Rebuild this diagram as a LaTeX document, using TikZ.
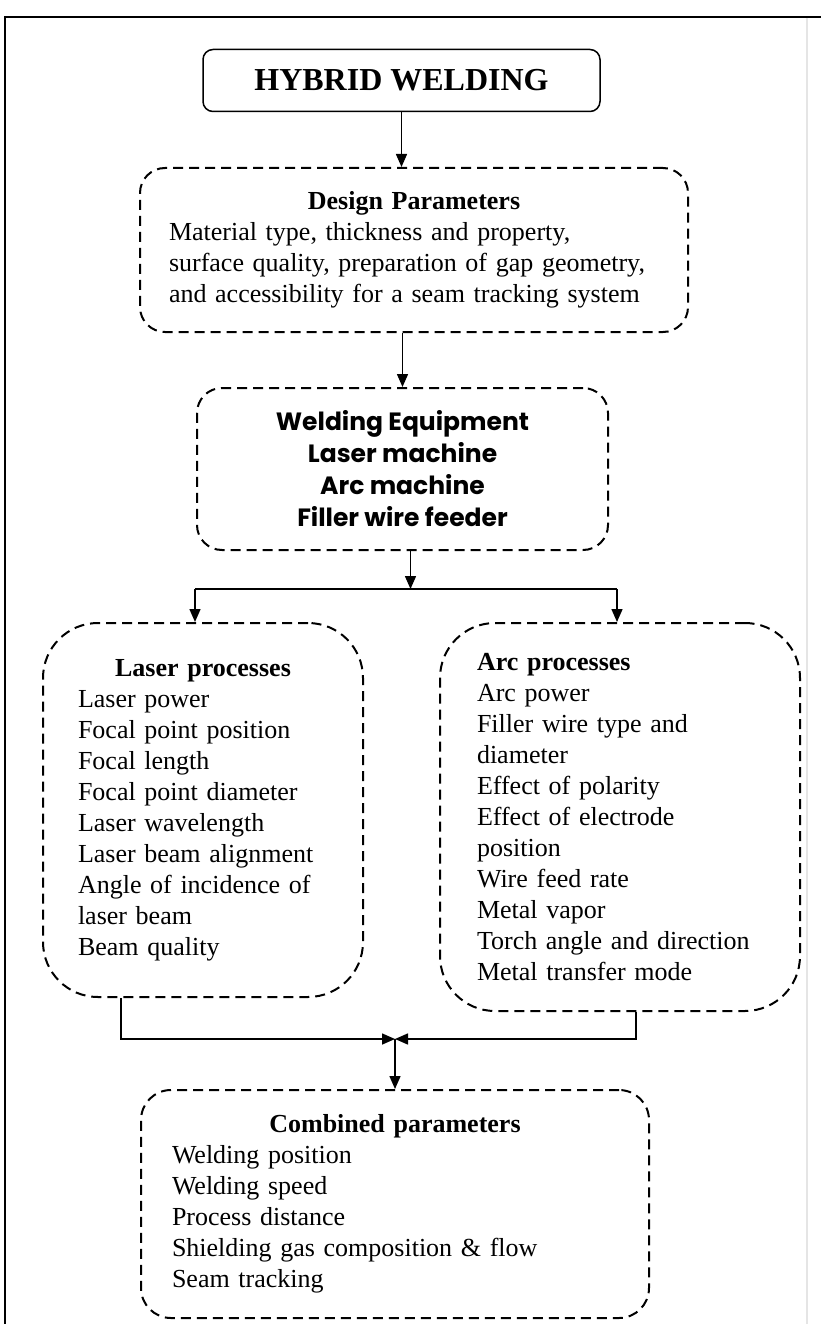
\documentclass[tikz,border=0pt]{standalone}
\usepackage{fontspec}
\setmainfont{Liberation Serif}
\newfontfamily\equipfont{Poppins}
\usetikzlibrary{arrows.meta}

\newcommand\boxhead[1]{\makebox[\hsize]{\bfseries #1}}

\tikzset{
  procbox/.style={draw,dash pattern=on 10pt off 6pt,line width=2pt,align=left,
    font=\fontsize{26}{31}\selectfont},
  link/.style={line width=1.5pt}
}

\begin{document}
\begin{tikzpicture}[x=1pt,y=-1pt,>={Triangle[length=13pt,width=11pt]}]
\useasboundingbox (0,0) rectangle (821,1324);
% page frame
\draw[line width=1.5pt] (5,1324) -- (5,17) -- (821,17);
\draw[black!10,line width=2pt] (807,18) -- (807,1324);

\node[draw,line width=1.5pt,rounded corners=10pt,minimum width=397pt,minimum height=62pt,
  font=\fontsize{32}{32}\selectfont\bfseries] (hybrid) at (401.5,80.5) {HYBRID WELDING};
\node[procbox,rounded corners=25pt,text width=490pt,inner xsep=29pt,minimum height=164pt] (design) at (414,250)
  {\boxhead{Design Parameters}\\Material type, thickness and property,\\surface quality, preparation of gap geometry,\\and accessibility for a seam tracking system};
\node[procbox,rounded corners=25pt,minimum width=411pt,minimum height=162pt,align=center,
  font=\fontsize{25}{32}\equipfont\bfseries] (equip) at (402.5,469)
  {Welding Equipment\\Laser machine\\Arc machine\\Filler wire feeder};
\node[procbox,rounded corners=55pt,text width=250pt,inner xsep=35pt,minimum height=374pt] (laser) at (203,810)
  {\boxhead{Laser processes}\\Laser power\\Focal point position\\Focal length\\Focal point diameter\\Laser wavelength\\Laser beam alignment\\Angle of incidence of\\laser beam\\Beam quality};
\node[procbox,rounded corners=55pt,text width=286pt,inner xsep=37pt,minimum height=388pt] (arc) at (620,817)
  {\textbf{Arc processes}\\Arc power\\Filler wire type and\\diameter\\Effect of polarity\\Effect of electrode\\position\\Wire feed rate\\Metal vapor\\Torch angle and direction\\Metal transfer mode};
\node[procbox,rounded corners=30pt,text width=446pt,inner xsep=31pt,minimum height=228pt] (combined) at (395,1204)
  {\boxhead{Combined parameters}\\Welding position\\Welding speed\\Process distance\\Shielding gas composition \& flow\\Seam tracking};

% connectors
\draw[link,->] (hybrid.south) -- (hybrid.south |- design.north);
\draw[link,->] (equip.north |- design.south) -- (equip.north);
\coordinate (split) at ([xshift=8pt,yshift=-38pt]equip.south);
\draw[link,->] (split |- equip.south) -- (split);
\draw[link] ([xshift=-8pt]laser.north |- split) -- ([xshift=-3pt]arc.north |- split);
\draw[link,->] ([xshift=-8pt]laser.north |- split) -- ([xshift=-8pt]laser.north);
\draw[link,->] ([xshift=-3pt]arc.north |- split) -- ([xshift=-3pt]arc.north);
\coordinate (join) at ([yshift=50pt]combined.north);
\draw[link,->] ([xshift=-82pt]laser.south) |- (join);
\draw[link,->] ([xshift=16pt]arc.south) |- (join);
\draw[link,->] (join) -- (combined.north);
\end{tikzpicture}
\end{document}
